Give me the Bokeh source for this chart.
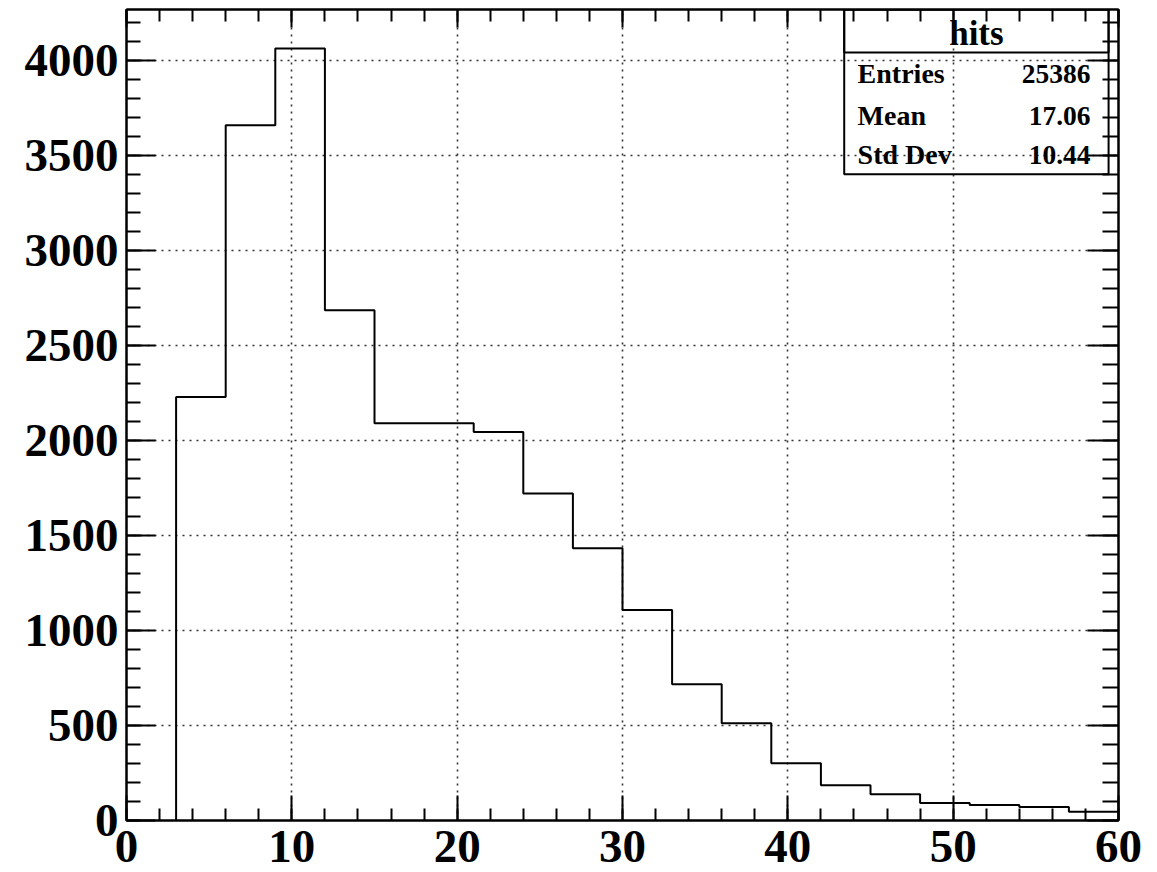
from bokeh.plotting import figure
from bokeh.models import (Range1d, SingleIntervalTicker, LinearAxis, BoxAnnotation, Label)
from bokeh.embed import file_html
from bokeh.resources import INLINE

# ---- data ----
bin_edges = [3, 6, 9, 12, 15, 18, 21, 24, 27, 30, 33, 36, 39, 42, 45, 48, 51, 54, 57, 60]
counts = [2230, 3660, 4065, 2686, 2092, 2092, 2045, 1722, 1434, 1108, 717, 512, 302, 186, 138, 92, 81, 71, 46]
stat_names = ["Entries", "Mean", "Std Dev"]
stat_values = ["25386", "17.06", "10.44"]
hist_title = "hits"

X_MIN, X_MAX = 0, 60
Y_MIN, Y_MAX = 0, 4270

FONT = "Liberation Serif"

p = figure(width=1157, height=872, output_backend="svg", toolbar_location=None,
           x_range=Range1d(X_MIN, X_MAX), y_range=Range1d(Y_MIN, Y_MAX),
           min_border_left=126, min_border_right=39, min_border_top=9, min_border_bottom=52,
           background_fill_color="white", border_fill_color="white")
p.outline_line_color = "black"
p.outline_line_width = 2

xt = SingleIntervalTicker(interval=10, num_minor_ticks=5)
yt = SingleIntervalTicker(interval=500, num_minor_ticks=5)
p.xaxis.ticker = xt
p.yaxis.ticker = yt

def style_axis(ax, major_in, minor_in, show_labels, standoff):
    ax.axis_line_color = "black"
    ax.axis_line_width = 2
    ax.major_tick_line_color = "black"
    ax.major_tick_line_width = 2
    ax.minor_tick_line_color = "black"
    ax.minor_tick_line_width = 2
    ax.major_tick_in = major_in
    ax.major_tick_out = 0
    ax.minor_tick_in = minor_in
    ax.minor_tick_out = 0
    if show_labels:
        ax.major_label_text_font = FONT
        ax.major_label_text_font_style = "bold"
        ax.major_label_text_font_size = "47px"
        ax.major_label_text_color = "black"
        ax.major_label_standoff = standoff
    else:
        ax.major_label_text_font_size = "1px"
        ax.major_label_text_color = None
        ax.major_label_standoff = 0

for ax in p.xaxis:
    style_axis(ax, 25, 12, True, 10)
for ax in p.yaxis:
    style_axis(ax, 29, 14, True, 8)

top_ax = LinearAxis(ticker=SingleIntervalTicker(interval=10, num_minor_ticks=5))
style_axis(top_ax, 18, 12, False, 0)
p.add_layout(top_ax, "above")
right_ax = LinearAxis(ticker=SingleIntervalTicker(interval=500, num_minor_ticks=5))
style_axis(right_ax, 31, 16, False, 0)
p.add_layout(right_ax, "right")

for g in (p.xgrid, p.ygrid):
    g.grid_line_color = "#333333"
    g.grid_line_width = 1.6
    g.grid_line_dash = "2 5"
p.xgrid.ticker = xt
p.ygrid.ticker = yt

# ---- histogram outline ----
xs = [bin_edges[0]]
ys = [0]
for i, c in enumerate(counts):
    xs += [bin_edges[i], bin_edges[i + 1]]
    ys += [c, c]
p.line(xs, ys, line_color="black", line_width=2)

# ---- stats box (positions as fractions of the frame, like ROOT NDC) ----
def fx(f):
    return X_MIN + f * (X_MAX - X_MIN)
def fy(f):
    return Y_MIN + f * (Y_MAX - Y_MIN)

box_l, box_r, box_b, box_t, box_sep = 0.7235, 0.990, 0.797, 1.0, 0.947
p.add_layout(BoxAnnotation(left=fx(box_l), right=fx(box_r), bottom=fy(box_b), top=fy(box_t),
                           fill_alpha=0, line_color="black", line_alpha=1, line_width=2,
                           level="overlay"))
p.add_layout(BoxAnnotation(left=fx(box_l), right=fx(box_r), bottom=fy(box_sep), top=fy(box_t),
                           fill_alpha=0, line_color="black", line_alpha=1, line_width=2,
                           level="overlay"))

p.add_layout(Label(x=fx((box_l + box_r) / 2), y=fy(0.970), text=hist_title, text_align="center",
                   text_baseline="alphabetic", text_font=FONT, text_font_style="bold",
                   text_font_size="35px", text_color="black"))
row_y = [0.921, 0.869, 0.821]
for name, val, ry in zip(stat_names, stat_values, row_y):
    p.add_layout(Label(x=fx(0.737), y=fy(ry), text=name, text_align="left",
                       text_baseline="alphabetic", text_font=FONT, text_font_style="bold",
                       text_font_size="28px", text_color="black"))
    p.add_layout(Label(x=fx(0.9718), y=fy(ry), text=val, text_align="right",
                       text_baseline="alphabetic", text_font=FONT, text_font_style="bold",
                       text_font_size="27.5px", text_color="black"))

open("out.html", "w").write(file_html(p, INLINE))
